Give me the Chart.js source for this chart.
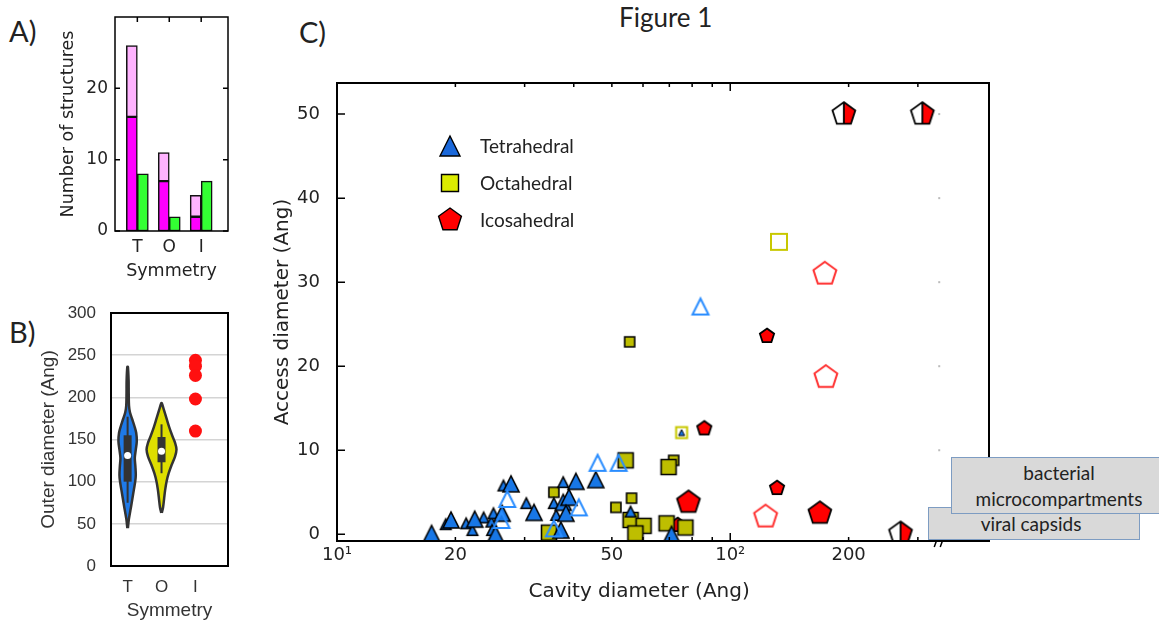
<!DOCTYPE html>
<html>
<head>
<meta charset="utf-8">
<script src="https://cdn.jsdelivr.net/npm/chart.js@4.4.1/dist/chart.umd.min.js"></script>
<style>
  body { margin: 0; width: 1159px; height: 622px; background: #fff; position: relative; overflow: hidden; }
  canvas { position: absolute; }
  .lbl { position: absolute; color: #222; font-family: Lato, sans-serif; line-height: 1; white-space: nowrap; }
  .note { position: absolute; box-sizing: border-box; background: #d9d9d9; border: 1px solid #7d9cc2;
          color: #222; font-family: Lato, sans-serif; font-size: 19px; text-align: center; white-space: nowrap; }
</style>
</head>
<body>
<div class="lbl" style="left:9px;top:16px;font-size:29px">A)</div>
<div class="lbl" style="left:9px;top:317px;font-size:29px">B)</div>
<div class="lbl" style="left:299px;top:17px;font-size:29px">C)</div>
<div class="lbl" style="left:619px;top:4px;font-size:26px">Figure 1</div>

<canvas id="chartA" width="195" height="280" style="left:45px;top:5px"></canvas>
<canvas id="chartB" width="220" height="322" style="left:20px;top:300px"></canvas>
<canvas id="chartC" width="735" height="550" style="left:265px;top:60px"></canvas>

<div class="note" style="left:928px;top:507px;width:212px;height:33px;line-height:31px;padding-right:6px">viral capsids</div>
<div class="note" style="left:951px;top:457px;width:216px;height:57px;line-height:26px;padding-top:2px">bacterial<br>microcompartments</div>

<script>
// ---------- A) number of structures per symmetry
const symmetryLabels = ['T', 'O', 'I'];
const countsMagenta = [16, 7, 2];
const countsPink = [10, 4, 3];      // stacked on the magenta part
const countsGreen = [8, 2, 7];
const countTicks = [0, 10, 20];

// ---------- B) outer diameter (Ang)
const violinTLevels = [45, 55, 62, 70, 80, 90, 100, 108, 118, 128, 138, 148, 158, 166, 174, 182, 190, 205, 220, 236];
const violinTHalfW  = [0.3, 1.2, 2.2, 3.4, 4.8, 6.2, 7.6, 8.2, 7.8, 7.2, 8.2, 9.2, 8.6, 6.8, 4.6, 2.4, 1.4, 1.1, 1.0, 0.3];
const violinOLevels = [63, 70, 80, 90, 100, 110, 120, 130, 138, 146, 155, 165, 175, 185, 193];
const violinOHalfW  = [0.3, 1.6, 2.6, 3.6, 5.0, 7.2, 10.2, 13.6, 15.0, 13.6, 10.6, 7.6, 5.0, 2.4, 0.3];
const boxT = { low: 75, q1: 100, median: 131, q3: 155, high: 177 };
const boxO = { low: 110, q1: 123, median: 136, q3: 153, high: 168 };
const outerIcosa = [244, 237, 226, 198, 160];
const outerTicks = [0, 50, 100, 150, 200, 250, 300];

// ---------- C) access vs cavity diameter (Ang)
const tetraBigX   = [17.4, 19.5, 22.4, 25.3, 26.3, 27.7, 31.7, 37.1, 37.6, 40.5, 45.5, 38.9, 38.2, 70.9];
const tetraBigY   = [0.1, 1.7, 1.8, 0.0, 2.5, 6.0, 2.6, 0.5, 3.8, 6.3, 6.5, 4.4, 2.5, 0.0];
const tetraSmallX = [18.9, 21.3, 22.1, 23.6, 24.7, 24.8, 25.0, 26.5, 30.3, 36.1, 37.6, 35.6, 55.8];
const tetraSmallY = [1.2, 1.3, 0.5, 2.0, 1.5, 0.5, 2.5, 5.8, 3.7, 2.3, 6.2, 3.7, 2.7];
const tetraTinyX  = [75.2];
const tetraTinyY  = [12.1];
const tetraOpenX  = [27.1, 26.2, 35.6, 41.2, 46.0, 52.0, 84.0];
const tetraOpenY  = [4.2, 1.7, 0.7, 3.2, 8.5, 8.5, 27.1];

const octaBigX   = [54.2, 34.6, 55.8, 60.2, 57.4, 69.7, 68.9, 76.9];
const octaBigY   = [8.8, 0.2, 1.7, 1.0, 0.1, 8.0, 1.3, 0.8];
const octaSmallX = [35.6, 51.2, 56.1, 55.5, 71.8];
const octaSmallY = [5.0, 3.2, 4.3, 22.9, 8.8];
const octaOpenBigX = [133];
const octaOpenBigY = [34.8];
const octaOpenSmallX = [75.2];
const octaOpenSmallY = [12.1];

const icoBigX   = [78.3, 169];
const icoBigY   = [3.8, 2.5];
const icoSmallX = [85.9, 124, 131.5, 73.5];
const icoSmallY = [12.6, 23.6, 5.5, 1.1];
const icoOpenX  = [123, 174, 175];
const icoOpenY  = [2.1, 31.0, 18.7];
const icoHalfX  = [194.5, 308, 271];
const icoHalfY  = [50, 50, 0.1];

const cavityTicks = [10, 20, 30, 40, 50, 60, 70, 80, 90, 100, 200, 300];
const cavityMajor = [10, 100];
const cavityTickText = { 10: '10\u00b9', 20: '20', 50: '50', 100: '10\u00b2', 200: '200' };
const accessTicks = [0, 10, 20, 30, 40, 50];
const legendLabels = ['Tetrahedral', 'Octahedral', 'Icosahedral'];
const axisBreakAt = 336;

// ---------- helpers
const pts = (xs, ys) => xs.map((x, i) => ({ x: x, y: ys[i] }));
// no extra label padding around the plot box, the canvases are placed by hand
const noPad = s => { s.paddingTop = 0; s.paddingBottom = 0; s.paddingLeft = 0; s.paddingRight = 0; };

// marker drawn on a small canvas, used as pointStyle (centred like matplotlib markers)
function marker(shape, s, fill, stroke, lw, half) {
  const size = 2 * Math.ceil(s / 2 + lw + 1);
  const c = document.createElement('canvas');
  c.width = size; c.height = size;
  const g = c.getContext('2d');
  const cx = size / 2, cy = size / 2, h = s / 2;
  const p = new Path2D();
  if (shape === 'tri') {
    p.moveTo(cx, cy - h); p.lineTo(cx + h, cy + h); p.lineTo(cx - h, cy + h); p.closePath();
  } else if (shape === 'sq') {
    p.rect(cx - h, cy - h, s, s);
  } else {
    for (let k = 0; k < 5; k++) {
      const a = -Math.PI / 2 + k * 2 * Math.PI / 5;
      const x = cx + h * Math.cos(a), y = cy + h * Math.sin(a);
      k ? p.lineTo(x, y) : p.moveTo(x, y);
    }
    p.closePath();
  }
  if (half) {
    g.fillStyle = '#fff'; g.fill(p);
    g.save(); g.beginPath(); g.rect(cx, 0, size, size); g.clip();
    g.fillStyle = fill; g.fill(p); g.restore();
  } else if (fill) {
    g.fillStyle = fill; g.fill(p);
  }
  g.lineJoin = 'miter';
  g.lineWidth = lw; g.strokeStyle = stroke; g.stroke(p);
  if (half) {
    g.beginPath(); g.moveTo(cx, cy - h); g.lineTo(cx, cy + h * Math.cos(Math.PI / 5)); g.stroke();
  }
  return c;
}

const BLUE = '#1877e6', BLUE_OPEN = '#2a8dff', OLIVE = '#bebe00', OLIVE_OPEN = '#c8c800', RED = '#ff0000', RED_OPEN = '#ff3030';

// matplotlib-like frame with inward ticks; settings kept in the closure
function mplFrame(cfg) {
  return {
    id: 'mplFrame',
    afterDraw(chart) {
      const { ctx, chartArea: a } = chart;
      const sx = chart.scales.x, sy = chart.scales.y;
      ctx.save();
      ctx.strokeStyle = '#000';
      ctx.lineWidth = cfg.lineWidth;
      ctx.strokeRect(a.left, a.top, a.right - a.left, a.bottom - a.top);
      ctx.lineWidth = 1.5;
      ctx.beginPath();
      (cfg.xTicks || []).forEach(v => {
        const px = sx.getPixelForValue(v);
        const len = (cfg.xMajor && cfg.xMajor.indexOf(v) < 0) ? cfg.minorLen : cfg.majorLen;
        if (cfg.bottom) { ctx.moveTo(px, a.bottom); ctx.lineTo(px, a.bottom - len); }
        if (cfg.top) { ctx.moveTo(px, a.top); ctx.lineTo(px, a.top + len); }
      });
      (cfg.yTicks || []).forEach(v => {
        const py = sy.getPixelForValue(v);
        ctx.moveTo(a.left, py); ctx.lineTo(a.left + cfg.majorLen, py);
        if (cfg.right) { ctx.moveTo(a.right, py); ctx.lineTo(a.right - cfg.majorLen, py); }
      });
      ctx.stroke();
      ctx.restore();
    }
  };
}

// axis break marks, faint ticks at the break and the x title centred on the unbroken part (panel C)
const axisBreak = {
  id: 'axisBreak',
  afterDraw(chart) {
    const { ctx, chartArea: a } = chart;
    const bx = chart.scales.x.getPixelForValue(axisBreakAt);
    ctx.save();
    ctx.fillStyle = '#bbb';
    accessTicks.slice(1).forEach(v => {
      const py = chart.scales.y.getPixelForValue(v);
      ctx.fillRect(bx + 1, py - 1, 2, 2);
    });
    ctx.strokeStyle = '#000';
    ctx.lineWidth = 1.5;
    ctx.beginPath();
    ctx.moveTo(bx - 3, a.bottom + 6); ctx.lineTo(bx + 1, a.bottom - 5);
    ctx.moveTo(bx + 3, a.bottom + 6); ctx.lineTo(bx + 7, a.bottom - 5);
    ctx.stroke();
    ctx.fillStyle = '#222';
    ctx.font = '20px "DejaVu Sans"';
    ctx.textAlign = 'center';
    ctx.textBaseline = 'middle';
    ctx.fillText('Cavity diameter (Ang)', (a.left + bx) / 2 + 2, a.bottom + 51);
    ctx.restore();
  }
};

// legend drawn inside the plot area (panel C)
const legendMarkers = [marker('tri', 20, '#1a68da', '#000', 1.4), marker('sq', 17, '#dcec00', '#000', 1.4), marker('pent', 24, RED, '#000', 1.4)];
const shapeLegend = {
  id: 'shapeLegend',
  afterDraw(chart) {
    const { ctx, chartArea: a } = chart;
    ctx.save();
    ctx.font = '19px Lato';
    ctx.fillStyle = '#222';
    ctx.textBaseline = 'middle';
    legendMarkers.forEach((img, i) => {
      const x = a.left + 113, y = a.top + 63 + i * 37;
      ctx.drawImage(img, Math.round(x - img.width / 2), Math.round(y - img.height / 2));
      ctx.fillText(legendLabels[i], a.left + 143, y + 1);
    });
    ctx.restore();
  }
};

// ---------- A
new Chart(document.getElementById('chartA'), {
  type: 'bar',
  data: {
    datasets: [
      { data: pts([0, 1, 2], countsMagenta), stack: 'left', backgroundColor: '#ff00ff' },
      { data: pts([0, 1, 2], countsPink), stack: 'left', backgroundColor: '#ffb3ff' },
      { data: pts([0, 1, 2], countsGreen), stack: 'right', backgroundColor: '#33ff33' }
    ]
  },
  options: {
    responsive: false, animation: false,
    layout: { padding: { top: 12, right: 12, left: 0, bottom: 0 } },
    datasets: { bar: { barThickness: 11, borderColor: '#111', borderWidth: 1.5, borderSkipped: false } },
    plugins: { legend: { display: false }, tooltip: { enabled: false } },
    scales: {
      x: {
        type: 'linear', offset: false, min: -0.7, max: 2.84,
        afterBuildTicks: s => { s.ticks = [0, 1, 2].map(v => ({ value: v })); },
        afterFit: s => { s.height = 54; noPad(s); },
        grid: { display: false, drawTicks: false }, border: { display: false },
        ticks: { padding: 6, color: '#222', font: { family: 'DejaVu Sans', size: 17 }, callback: v => symmetryLabels[v] },
        title: { display: true, text: 'Symmetry', color: '#222', font: { family: 'DejaVu Sans', size: 17.5 }, padding: { top: 0, bottom: 3 } }
      },
      y: {
        stacked: true, min: 0, max: 30,
        afterBuildTicks: s => { s.ticks = countTicks.map(v => ({ value: v })); },
        afterFit: s => { s.width = 70; noPad(s); },
        grid: { display: false, drawTicks: false }, border: { display: false },
        ticks: { padding: 7, color: '#222', font: { family: 'DejaVu Sans', size: 17 } },
        title: { display: true, text: 'Number of structures', color: '#222', font: { family: 'DejaVu Sans', size: 17.5 }, padding: { top: 13, bottom: 0 } }
      }
    }
  },
  plugins: [mplFrame({ xTicks: [0, 1, 2], yTicks: countTicks, majorLen: 5, top: true, bottom: false, right: true, lineWidth: 1.5 })]
});

// ---------- B
function violin(center, levels, halfPx) {
  const unit = 34; // px per category on this axis
  const right = levels.map((y, i) => ({ x: center + halfPx[i] / unit, y: y }));
  const left = levels.map((y, i) => ({ x: center - halfPx[i] / unit, y: y })).reverse();
  return right.concat(left);
}
const bStyle = { showLine: true, pointRadius: 0, borderColor: '#333' };

new Chart(document.getElementById('chartB'), {
  type: 'scatter',
  data: {
    datasets: [
      { data: [{ x: 0, y: boxT.median }, { x: 1, y: boxO.median }], pointRadius: 3.5, pointBackgroundColor: '#fff', pointBorderWidth: 0 },
      Object.assign({ data: [{ x: 0, y: boxT.q1 }, { x: 0, y: boxT.q3 }], borderWidth: 8, borderCapStyle: 'butt' }, bStyle),
      Object.assign({ data: [{ x: 1, y: boxO.q1 }, { x: 1, y: boxO.q3 }], borderWidth: 8, borderCapStyle: 'butt' }, bStyle),
      Object.assign({ data: [{ x: 0, y: boxT.low }, { x: 0, y: boxT.high }], borderWidth: 2 }, bStyle),
      Object.assign({ data: [{ x: 1, y: boxO.low }, { x: 1, y: boxO.high }], borderWidth: 2 }, bStyle),
      Object.assign({ data: violin(0, violinTLevels, violinTHalfW), fill: 'shape', backgroundColor: '#1f7ae8', borderWidth: 2.5, tension: 0.3 }, bStyle),
      Object.assign({ data: violin(1, violinOLevels, violinOHalfW), fill: 'shape', backgroundColor: '#dede00', borderWidth: 2.5, tension: 0.3 }, bStyle),
      { data: outerIcosa.map(y => ({ x: 2, y: y })), pointRadius: 6.5, pointBackgroundColor: '#ff1010', pointBorderWidth: 0 }
    ]
  },
  options: {
    responsive: false, animation: false,
    layout: { padding: { top: 13, right: 12, left: 0, bottom: 0 } },
    plugins: { legend: { display: false }, tooltip: { enabled: false } },
    scales: {
      x: {
        type: 'linear', min: -0.49, max: 2.96,
        afterBuildTicks: s => { s.ticks = [0, 1, 2].map(v => ({ value: v })); },
        afterFit: s => { s.height = 56; noPad(s); },
        grid: { display: false, drawTicks: false }, border: { display: false },
        ticks: { padding: 11, color: '#333', font: { family: 'Liberation Sans', size: 17 }, callback: v => symmetryLabels[v] },
        title: { display: true, text: 'Symmetry', color: '#333', font: { family: 'Liberation Sans', size: 19 }, padding: { top: 0, bottom: 0 } }
      },
      y: {
        min: 0, max: 300,
        afterBuildTicks: s => { s.ticks = outerTicks.map(v => ({ value: v })); },
        afterFit: s => { s.width = 91; noPad(s); },
        grid: { color: '#d4d4d4', lineWidth: 1.5, drawTicks: false }, border: { display: false },
        ticks: { padding: 15, color: '#333', font: { family: 'Liberation Sans', size: 17 } },
        title: { display: true, text: 'Outer diameter (Ang)', color: '#333', font: { family: 'Liberation Sans', size: 19 }, padding: { top: 17, bottom: 0 } }
      }
    }
  },
  plugins: [mplFrame({ lineWidth: 2, majorLen: 0 })]
});

// ---------- C
const imgTriBig = marker('tri', 16, BLUE, '#000', 1.6);
const imgTriSmall = marker('tri', 10.5, BLUE, '#000', 1.6);
const imgTriTiny = marker('tri', 6, BLUE, '#000', 1);
const imgTriOpen = marker('tri', 16, null, BLUE_OPEN, 2);
const imgSqBig = marker('sq', 15, OLIVE, '#000', 1.6);
const imgSqSmall = marker('sq', 10, OLIVE, '#000', 1.6);
const imgSqOpenBig = marker('sq', 16, null, OLIVE_OPEN, 2);
const imgSqOpenSmall = marker('sq', 11, '#fff', OLIVE_OPEN, 2);
const imgPentBig = marker('pent', 24, RED, '#000', 1.8);
const imgPentSmall = marker('pent', 15, RED, '#000', 1.8);
const imgPentOpen = marker('pent', 24, null, RED_OPEN, 2);
const imgPentHalf = marker('pent', 24, RED, '#000', 1.8, true);

const sc = (xs, ys, img) => ({ data: pts(xs, ys), pointStyle: img, pointRadius: 10 });

new Chart(document.getElementById('chartC'), {
  type: 'scatter',
  data: {
    datasets: [
      sc(tetraTinyX, tetraTinyY, imgTriTiny),
      sc(tetraOpenX, tetraOpenY, imgTriOpen),
      sc(tetraBigX, tetraBigY, imgTriBig),
      sc(tetraSmallX, tetraSmallY, imgTriSmall),
      sc(octaOpenSmallX, octaOpenSmallY, imgSqOpenSmall),
      sc(octaOpenBigX, octaOpenBigY, imgSqOpenBig),
      sc(octaBigX, octaBigY, imgSqBig),
      sc(octaSmallX, octaSmallY, imgSqSmall),
      sc(icoHalfX, icoHalfY, imgPentHalf),
      sc(icoOpenX, icoOpenY, imgPentOpen),
      sc(icoBigX, icoBigY, imgPentBig),
      sc(icoSmallX, icoSmallY, imgPentSmall)
    ]
  },
  options: {
    responsive: false, animation: false,
    layout: { padding: { top: 23, right: 8, left: 0, bottom: 0 } },
    plugins: { legend: { display: false }, tooltip: { enabled: false } },
    scales: {
      x: {
        type: 'logarithmic', min: 10, max: 455,
        afterBuildTicks: s => { s.ticks = cavityTicks.map(v => ({ value: v })); },
        afterFit: s => { s.height = 69; noPad(s); },
        grid: { display: false, drawTicks: false }, border: { display: false },
        ticks: { autoSkip: false, maxRotation: 0, padding: 4, color: '#222', font: { family: 'DejaVu Sans', size: 18 },
                 callback: v => cavityTickText[v] || '' },
        title: { display: false }
      },
      y: {
        min: -0.8, max: 53.7,
        afterBuildTicks: s => { s.ticks = accessTicks.map(v => ({ value: v })); },
        afterFit: s => { s.width = 72; noPad(s); },
        grid: { display: false, drawTicks: false }, border: { display: false },
        ticks: { padding: 17, color: '#222', font: { family: 'DejaVu Sans', size: 18 } },
        title: { display: true, text: 'Access diameter (Ang)', color: '#222', font: { family: 'DejaVu Sans', size: 20 }, padding: { top: 6, bottom: 0 } }
      }
    }
  },
  plugins: [
    mplFrame({ xTicks: cavityTicks, xMajor: cavityMajor, yTicks: accessTicks, majorLen: 8, minorLen: 4, top: true, bottom: true, lineWidth: 2 }),
    axisBreak, shapeLegend
  ]
});
</script>
</body>
</html>
